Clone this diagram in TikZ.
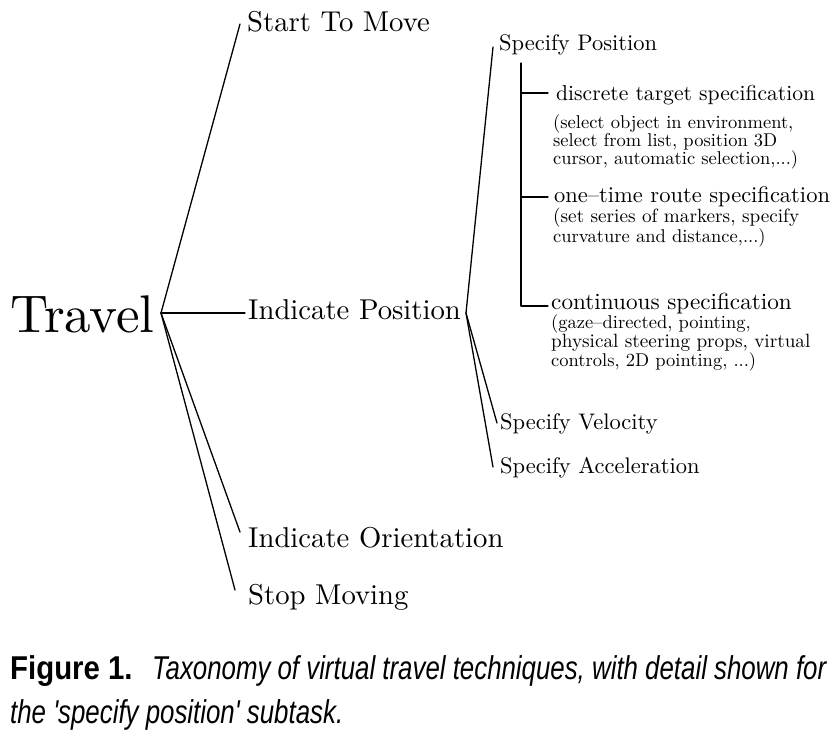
\documentclass[tikz,border=0pt]{standalone}
\usepackage{fontspec}
\setmainfont{lmroman10-regular}[Extension=.otf]
\newfontfamily\capfont[FakeStretch=0.783]{Liberation Sans}
\newfontfamily\capboldfont[FakeStretch=0.89]{Liberation Sans}
\begin{document}
\begin{tikzpicture}[x=1pt,y=-1pt, line cap=round, line join=round,
  lbl/.style={inner sep=0pt, anchor=base west},
  tvl/.style={lbl, font=\fontsize{53}{55}\selectfont},
  lva/.style={lbl, font=\fontsize{28.7}{30}\selectfont},
  lvb/.style={lbl, font=\fontsize{22.5}{24}\selectfont},
  lvc/.style={lbl, font=\fontsize{18.5}{20}\selectfont},
  capi/.style={lbl, font=\capfont\itshape\fontsize{33}{36}\selectfont},
  capb/.style={lbl, font=\capboldfont\bfseries\fontsize{33}{36}\selectfont},
  link/.style={draw, line width=1.3pt}]
\useasboundingbox (0,0) rectangle (837,736);
% main labels
\node[tvl] (travel) at (10,332) {Travel};
\node[lva] (stm) at (247,31) {Start To Move};
\node[lva] (ip) at (248,319) {Indicate Position};
\node[lva] (io) at (248,547) {Indicate Orientation};
\node[lva] (sm) at (248,604) {Stop Moving};
\node[lvb] (sp) at (499,50) {Specify Position};
\node[lvb] (sv) at (500,429) {Specify Velocity};
\node[lvb] (sa) at (500,473) {Specify Acceleration};
% specify position details
\node[lvb, font=\fontsize{21.6}{23}\selectfont] (dts) at (556,100) {discrete target specification};
\node[lvc] (dts1) at (553,128) {(select object in environment,};
\node[lvc] (dts2) at (553,146) {select from list, position 3D};
\node[lvc] (dts3) at (553,164) {cursor, automatic selection,...)};
\node[lvb] (ots) at (554,202) {one--time route specification};
\node[lvc, font=\fontsize{19.2}{20}\selectfont] (ots1) at (553,222) {(set series of markers, specify};
\node[lvc] (ots2) at (553,242) {curvature and distance,...)};
\node[lvb, font=\fontsize{23.2}{24}\selectfont] (cs) at (551,309) {continuous specification};
\node[lvc] (cs1) at (551,328) {(gaze--directed, pointing,};
\node[lvc, font=\fontsize{19.2}{20}\selectfont] (cs2) at (551,347) {physical steering props, virtual};
\node[lvc] (cs3) at (551,366) {controls, 2D pointing, ...)};
% caption
\node[capb] (capA) at (10,679) {Figure 1.};
\node[capi] (capB) at (152,679) {Taxonomy of virtual travel techniques, with detail shown for};
\node[capi] (capC) at (10,723) {the 'specify position' subtask.};
% junction points and line ends
\coordinate (R) at (161,313);
\coordinate (J) at (466,313);
\coordinate (eStm) at (240,24);
\coordinate (eIp) at (245,313);
\coordinate (eIo) at (240,532);
\coordinate (eSm) at (235,590);
\coordinate (eSp) at (493,47);
\coordinate (eSv) at (497,423);
\coordinate (eSa) at (493,467);
\coordinate (vTop) at (521,63);
\coordinate (vBot) at (521,306);
\coordinate (tD) at (521,93);
\coordinate (tDe) at (548,93);
\coordinate (tO) at (521,197);
\coordinate (tOe) at (548,197);
\coordinate (tCe) at (548,306);
% connectors
\path[link] (R) -- (eStm);
\path[link] (R) -- (eIp);
\path[link] (R) -- (eIo);
\path[link] (R) -- (eSm);
\path[link] (J) -- (eSp);
\path[link] (J) -- (eSv);
\path[link] (J) -- (eSa);
\path[link] (vTop) -- (vBot) -- (tCe);
\path[link] (tD) -- (tDe);
\path[link] (tO) -- (tOe);
\end{tikzpicture}
\end{document}
